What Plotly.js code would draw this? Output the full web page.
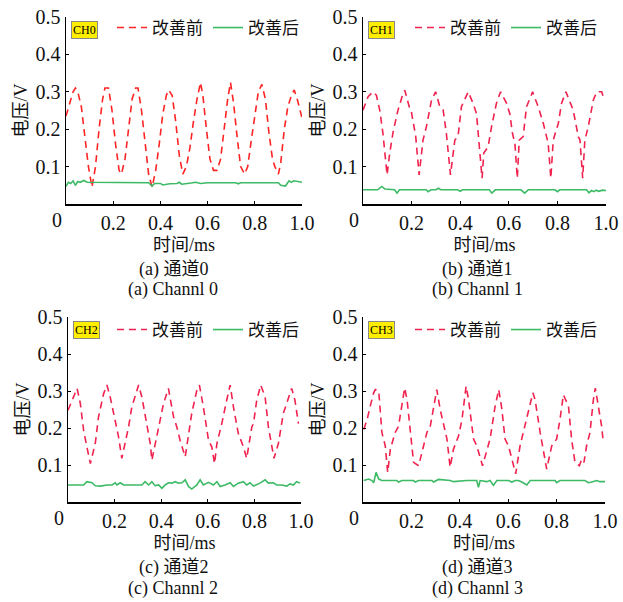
<!DOCTYPE html>
<html>
<head>
<meta charset="utf-8">
<script src="https://cdn.plot.ly/plotly-3.0.1.min.js"></script>
<style>html,body{margin:0;padding:0;background:#fff;}#chart{width:623px;height:602px;}</style>
</head>
<body>
<div id="chart"></div>
<script>
// ---------------- DATA ----------------
const legendNames = ['改善前', '改善后'];
const channelTags = ['CH0', 'CH1', 'CH2', 'CH3'];
const captionsCn = ['(a) 通道0', '(b) 通道1', '(c) 通道2', '(d) 通道3'];
const captionsEn = ['(a) Channl 0', '(b) Channl 1', '(c) Channl 2', '(d) Channl 3'];
const xTickVals = [0.2, 0.4, 0.6, 0.8, 1.0];
const xTickText = ['0.2', '0.4', '0.6', '0.8', '1.0'];
const yTickVals = [0.1, 0.2, 0.3, 0.4, 0.5];
const yTickText = ['0.1', '0.2', '0.3', '0.4', '0.5'];

// CH0
const ch0BeforeT = [0,0.015,0.03,0.04,0.05,0.065,0.08,0.095,0.11,0.125,0.14,0.155,0.165,0.18,0.195,0.21,0.225,0.235,0.25,0.265,0.28,0.295,0.305,0.32,0.335,0.35,0.365,0.38,0.395,0.41,0.425,0.435,0.45,0.465,0.48,0.495,0.51,0.525,0.54,0.555,0.57,0.58,0.595,0.61,0.625,0.64,0.655,0.67,0.685,0.697,0.71,0.725,0.74,0.757,0.77,0.785,0.8,0.815,0.83,0.845,0.86,0.875,0.885,0.9,0.91,0.925,0.94,0.955,0.967,0.98,1.0];
const ch0Before = [0.235,0.27,0.3,0.31,0.3,0.26,0.18,0.1,0.045,0.1,0.2,0.28,0.31,0.31,0.25,0.16,0.09,0.08,0.12,0.2,0.28,0.31,0.31,0.25,0.17,0.08,0.045,0.09,0.16,0.24,0.29,0.305,0.29,0.22,0.13,0.08,0.1,0.15,0.22,0.28,0.325,0.29,0.2,0.12,0.09,0.09,0.12,0.2,0.28,0.325,0.27,0.18,0.1,0.08,0.1,0.17,0.24,0.3,0.32,0.28,0.19,0.12,0.1,0.08,0.11,0.2,0.26,0.29,0.305,0.28,0.23];
const ch0AfterT = [0,0.01,0.02,0.03,0.04,0.05,0.06,0.075,0.09,0.11,0.13,0.15,0.3,0.35,0.365,0.375,0.4,0.41,0.44,0.47,0.48,0.49,0.53,0.55,0.57,0.6,0.72,0.73,0.74,0.9,0.91,0.93,0.945,0.955,0.965,0.98,1.0];
const ch0After = [0.047,0.058,0.055,0.062,0.05,0.06,0.058,0.063,0.058,0.058,0.056,0.057,0.057,0.057,0.048,0.055,0.055,0.051,0.054,0.055,0.058,0.053,0.056,0.058,0.055,0.057,0.057,0.054,0.057,0.057,0.05,0.048,0.062,0.058,0.062,0.06,0.058];

// CH1
const ch1BeforeT = [0,0.021,0.041,0.055,0.069,0.082,0.099,0.11,0.124,0.144,0.165,0.172,0.192,0.199,0.217,0.231,0.247,0.261,0.282,0.299,0.316,0.33,0.343,0.36,0.378,0.391,0.405,0.433,0.453,0.467,0.49,0.497,0.515,0.529,0.549,0.566,0.591,0.604,0.615,0.625,0.635,0.643,0.659,0.673,0.698,0.721,0.742,0.755,0.762,0.773,0.783,0.804,0.817,0.835,0.865,0.886,0.893,0.904,0.913,0.927,0.948,0.962,0.982,0.989];
const ch1Before = [0.251,0.287,0.3,0.291,0.251,0.189,0.078,0.136,0.193,0.251,0.296,0.304,0.256,0.247,0.18,0.078,0.171,0.207,0.278,0.3,0.26,0.251,0.189,0.078,0.171,0.18,0.26,0.3,0.269,0.242,0.069,0.136,0.153,0.207,0.269,0.3,0.269,0.242,0.189,0.162,0.069,0.171,0.18,0.26,0.3,0.26,0.216,0.18,0.162,0.069,0.171,0.216,0.269,0.3,0.251,0.18,0.171,0.069,0.171,0.207,0.278,0.3,0.3,0.287];
const ch1AfterT = [0,0.06,0.07,0.078,0.09,0.13,0.14,0.15,0.26,0.268,0.28,0.3,0.31,0.32,0.39,0.4,0.41,0.52,0.53,0.545,0.65,0.665,0.68,0.79,0.8,0.81,0.92,0.93,0.94,0.95,0.96,0.97,0.985,1.0];
const ch1After = [0.038,0.038,0.043,0.047,0.04,0.038,0.029,0.038,0.038,0.033,0.038,0.038,0.042,0.038,0.038,0.034,0.038,0.038,0.029,0.038,0.038,0.029,0.038,0.038,0.033,0.038,0.038,0.03,0.036,0.033,0.037,0.034,0.037,0.036];

// CH2
const ch2BeforeT = [0,0.017,0.031,0.039,0.053,0.067,0.081,0.096,0.117,0.131,0.153,0.167,0.181,0.203,0.217,0.231,0.246,0.26,0.274,0.303,0.317,0.339,0.353,0.36,0.374,0.396,0.41,0.431,0.453,0.467,0.481,0.503,0.517,0.531,0.553,0.564,0.581,0.603,0.617,0.629,0.639,0.66,0.681,0.696,0.71,0.731,0.753,0.767,0.789,0.796,0.81,0.827,0.846,0.86,0.884,0.903,0.924,0.946,0.96,0.974,0.989];
const ch2Before = [0.248,0.275,0.293,0.307,0.266,0.194,0.149,0.104,0.158,0.23,0.293,0.316,0.284,0.212,0.176,0.118,0.158,0.203,0.257,0.316,0.284,0.203,0.158,0.113,0.158,0.221,0.266,0.307,0.23,0.203,0.167,0.122,0.185,0.239,0.302,0.316,0.257,0.167,0.149,0.104,0.158,0.212,0.275,0.316,0.257,0.185,0.149,0.118,0.203,0.212,0.275,0.316,0.284,0.203,0.118,0.158,0.239,0.284,0.307,0.275,0.212];
const ch2AfterT = [0,0.067,0.081,0.103,0.117,0.139,0.167,0.189,0.203,0.21,0.224,0.239,0.267,0.317,0.331,0.346,0.36,0.374,0.389,0.396,0.403,0.417,0.431,0.446,0.46,0.474,0.489,0.503,0.517,0.531,0.553,0.567,0.581,0.603,0.624,0.639,0.653,0.674,0.696,0.71,0.731,0.753,0.767,0.781,0.796,0.824,0.846,0.86,0.881,0.896,0.917,0.939,0.953,0.967,0.981,0.996];
const ch2After = [0.046,0.046,0.055,0.052,0.044,0.043,0.046,0.046,0.052,0.046,0.052,0.046,0.046,0.046,0.055,0.046,0.055,0.044,0.046,0.042,0.037,0.046,0.052,0.051,0.055,0.051,0.052,0.06,0.042,0.035,0.046,0.06,0.046,0.053,0.046,0.055,0.042,0.046,0.052,0.042,0.051,0.055,0.046,0.052,0.043,0.051,0.06,0.051,0.052,0.046,0.046,0.043,0.049,0.046,0.055,0.051];

// CH3
const ch3BeforeT = [0.003,0.017,0.03,0.044,0.051,0.065,0.072,0.078,0.092,0.102,0.113,0.133,0.147,0.161,0.172,0.182,0.195,0.209,0.23,0.25,0.264,0.278,0.292,0.305,0.319,0.333,0.347,0.36,0.374,0.395,0.409,0.426,0.436,0.457,0.47,0.494,0.512,0.525,0.546,0.561,0.574,0.587,0.601,0.615,0.631,0.649,0.663,0.684,0.702,0.711,0.732,0.759,0.78,0.8,0.814,0.828,0.849,0.862,0.876,0.894,0.904,0.913,0.924,0.938,0.952,0.96,0.972,0.986,0.993];
const ch3Before = [0.196,0.223,0.259,0.295,0.304,0.3,0.241,0.188,0.152,0.08,0.143,0.188,0.205,0.268,0.308,0.277,0.188,0.107,0.098,0.152,0.188,0.205,0.259,0.304,0.25,0.205,0.17,0.094,0.143,0.179,0.223,0.313,0.277,0.17,0.152,0.098,0.143,0.17,0.259,0.304,0.25,0.17,0.152,0.116,0.076,0.152,0.188,0.241,0.295,0.277,0.188,0.089,0.152,0.17,0.223,0.29,0.259,0.17,0.107,0.098,0.116,0.107,0.152,0.188,0.277,0.308,0.259,0.205,0.161];
const ch3AfterT = [0.003,0.023,0.037,0.044,0.054,0.065,0.078,0.14,0.147,0.161,0.209,0.216,0.23,0.285,0.292,0.303,0.312,0.36,0.374,0.429,0.47,0.477,0.484,0.512,0.525,0.539,0.553,0.601,0.615,0.629,0.642,0.656,0.677,0.691,0.794,0.8,0.814,0.917,0.931,0.945,0.966,0.979,1.0];
const ch3After = [0.058,0.062,0.058,0.052,0.08,0.062,0.058,0.058,0.054,0.058,0.058,0.054,0.058,0.058,0.054,0.058,0.061,0.058,0.055,0.058,0.058,0.04,0.058,0.055,0.058,0.045,0.058,0.058,0.054,0.058,0.058,0.054,0.046,0.058,0.058,0.052,0.058,0.058,0.052,0.054,0.058,0.055,0.055];

const beforeT = [ch0BeforeT, ch1BeforeT, ch2BeforeT, ch3BeforeT];
const beforeV = [ch0Before, ch1Before, ch2Before, ch3Before];
const afterT = [ch0AfterT, ch1AfterT, ch2AfterT, ch3AfterT];
const afterV = [ch0After, ch1After, ch2After, ch3After];

// ---------------- STYLE ----------------
const W = 623, H = 602;
const serif = 'Liberation Serif, Times New Roman, Noto Sans CJK SC, serif';
const redColors = ['#ff2424', '#f0234f', '#f0234f', '#f0234f'];
const greenColor = '#3dba66';
// panel boxes in pixels [left, right, top, bottom]
const boxes = [[66, 302, 17, 204], [363, 606, 17, 204], [68, 301, 317, 502], [363, 605, 317, 502]];
const legendPos = [[112, 28], [410, 28], [112, 330], [410, 330]];
const captionX = [173, 477, 173, 477];
const captionY = [[270, 290], [270, 290], [567, 588], [567, 588]];

const data = [];
const layout = {
  width: W, height: H,
  margin: {l: 0, r: 0, t: 0, b: 0},
  paper_bgcolor: '#ffffff', plot_bgcolor: '#ffffff',
  font: {family: serif, size: 18, color: '#111'},
  showlegend: true,
  annotations: []
};

for (let i = 0; i < 4; i++) {
  const sfx = i === 0 ? '' : String(i + 1);
  const lg = 'legend' + sfx;
  data.push({
    x: beforeT[i], y: beforeV[i], type: 'scatter', mode: 'lines',
    name: legendNames[0], legend: lg,
    xaxis: 'x' + sfx, yaxis: 'y' + sfx,
    line: {color: redColors[i], width: 1.6, dash: '7px,5px'}
  });
  data.push({
    x: afterT[i], y: afterV[i], type: 'scatter', mode: 'lines',
    name: legendNames[1], legend: lg,
    xaxis: 'x' + sfx, yaxis: 'y' + sfx,
    line: {color: greenColor, width: 1.6}
  });
  const b = boxes[i];
  layout['xaxis' + sfx] = {
    domain: [b[0] / W, b[1] / W], anchor: 'y' + sfx, range: [0, 1],
    showgrid: false, zeroline: false, showline: true, linecolor: '#000', linewidth: 1.5,
    ticks: 'inside', ticklen: 3, tickcolor: '#000',
    tickvals: xTickVals, ticktext: xTickText,
    tickfont: {family: serif, size: 20, color: '#111'},
    title: {text: '时间/ms', font: {family: serif, size: 18, color: '#111'}, standoff: 6},
    fixedrange: true
  };
  layout['yaxis' + sfx] = {
    domain: [1 - b[3] / H, 1 - b[2] / H], anchor: 'x' + sfx, range: [0, 0.5],
    showgrid: false, zeroline: false, showline: true, linecolor: '#000', linewidth: 1.5,
    ticks: 'inside', ticklen: 3, tickcolor: '#000',
    tickvals: yTickVals, ticktext: yTickText,
    tickfont: {family: serif, size: 20, color: '#111'},
    title: {text: '电压/V', font: {family: serif, size: 18, color: '#111'}, standoff: 3},
    fixedrange: true
  };
  layout[lg] = {
    orientation: 'h', x: legendPos[i][0] / W, y: 1 - legendPos[i][1] / H,
    xanchor: 'left', yanchor: 'middle', bgcolor: 'rgba(0,0,0,0)',
    font: {family: serif, size: 17, color: '#111'}, itemwidth: 30,
    tracegroupgap: 0
  };
  // channel tag
  layout.annotations.push({
    xref: 'x' + sfx + ' domain', yref: 'y' + sfx + ' domain',
    x: 0.022, y: 0.978, xanchor: 'left', yanchor: 'top', showarrow: false,
    text: channelTags[i], bgcolor: '#ffee00', bordercolor: '#888', borderwidth: 1, borderpad: 1,
    font: {family: serif, size: 12, color: '#000'}
  });
  // origin label
  layout.annotations.push({
    xref: 'x' + sfx + ' domain', yref: 'y' + sfx + ' domain',
    x: 0, y: 0, xanchor: 'center', yanchor: 'top', xshift: -9, yshift: -3, showarrow: false,
    text: '0', font: {family: serif, size: 20, color: '#111'}
  });
  // captions
  layout.annotations.push({
    xref: 'paper', yref: 'paper', x: captionX[i] / W, y: 1 - captionY[i][0] / H,
    xanchor: 'center', yanchor: 'middle', showarrow: false,
    text: captionsCn[i], font: {family: serif, size: 18, color: '#111'}
  });
  layout.annotations.push({
    xref: 'paper', yref: 'paper', x: captionX[i] / W, y: 1 - captionY[i][1] / H,
    xanchor: 'center', yanchor: 'middle', showarrow: false,
    text: captionsEn[i], font: {family: serif, size: 18, color: '#111'}
  });
}

Plotly.newPlot('chart', data, layout, {staticPlot: true, displayModeBar: false});
</script>
</body>
</html>
